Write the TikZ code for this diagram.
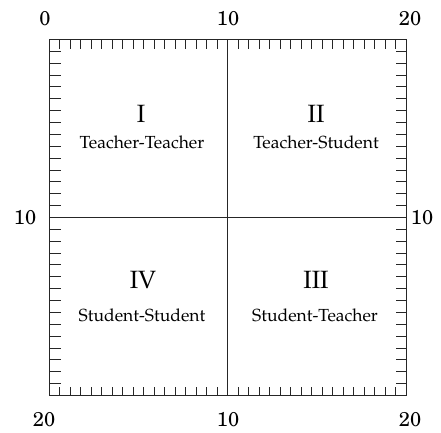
\documentclass[tikz,border=0pt]{standalone}
\usepackage[T1]{fontenc}
\renewcommand{\rmdefault}{ppl}
\begin{document}
\begin{tikzpicture}[x=1pt,y=-1pt,
  frame/.style={draw=black!85, line width=1.3pt},
  tick/.style={draw=black!85, line width=1.1pt},
  num/.style={font=\fontfamily{pnc}\fontsize{20}{24}\selectfont, text=black, inner sep=0pt},
  roman/.style={font=\fontsize{25}{30}\selectfont, text=black, inner sep=0pt},
  pair/.style={font=\fontsize{17.5}{21}\selectfont, text=black, inner sep=0pt}]
\useasboundingbox (0,0) rectangle (441,432);
\def\Lx{49.5}\def\Rx{406.5}\def\Ty{39.5}\def\By{395.5}\def\Mx{227.5}\def\My{217.5}
% horizontal ticks (17 intervals per half)
\foreach \k in {1,...,16}{
  \pgfmathsetmacro{\xa}{int(\Lx+\k*178/17)+0.5}
  \pgfmathsetmacro{\xb}{int(\Mx+\k*179/17)+0.5}
  \path[tick] (\xa,\Ty) -- ++(0,9);
  \path[tick] (\xb,\Ty) -- ++(0,9);
  \path[tick] (\xa,\By) -- ++(0,-9);
  \path[tick] (\xb,\By) -- ++(0,-9);
}
% vertical ticks (15 intervals per half)
\foreach \k in {1,...,14}{
  \pgfmathsetmacro{\ya}{int(\Ty+\k*178/15)+0.5}
  \pgfmathsetmacro{\yb}{int(\My+\k*178/15)+0.5}
  \path[tick] (\Lx,\ya) -- ++(11,0);
  \path[tick] (\Lx,\yb) -- ++(11,0);
  \path[tick] (\Rx,\ya) -- ++(-11,0);
  \path[tick] (\Rx,\yb) -- ++(-11,0);
}
\coordinate (tl) at (\Lx,\Ty);
\coordinate (br) at (\Rx,\By);
\coordinate (mt) at (\Mx,\Ty);
\coordinate (mb) at (\Mx,\By);
\coordinate (ml) at (\Lx,\My);
\coordinate (mr) at (\Rx,\My);
\path[frame] (tl) rectangle (br);
\path[frame] (mt) -- (mb);
\path[frame] (ml) -- (mr);
% axis numbers
\node[num] (t0) at (45,19) {0};
\node[num] (t10) at (228,19) {10};
\node[num] (t20) at (410,19) {20};
\node[num] (l10) at (25,218) {10};
\node[num] (r10) at (422,218) {10};
\node[num] (b20l) at (44,420) {20};
\node[num] (b10) at (228,420) {10};
\node[num] (b20r) at (410,420) {20};
% quadrant labels
\node[roman] (q1) at (141,114) {I};
\node[pair] (q1t) at (142,142) {Teacher-Teacher};
\node[roman] (q2) at (316,114) {II};
\node[pair] (q2t) at (316,142) {Teacher-Student};
\node[roman] (q4) at (143,280) {IV};
\node[pair] (q4t) at (142,315) {Student-Student};
\node[roman] (q3) at (316,280) {III};
\node[pair] (q3t) at (315,315) {Student-Teacher};
\end{tikzpicture}
\end{document}
